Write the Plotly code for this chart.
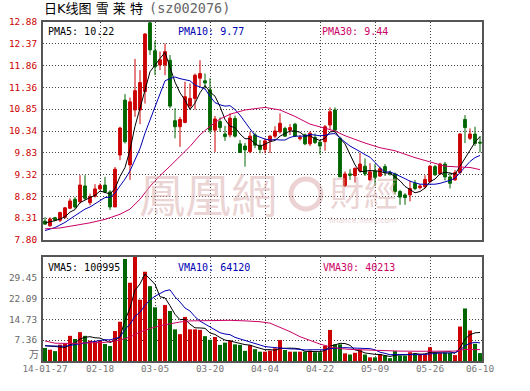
import plotly.graph_objects as go

# ---------------- data ----------------
dates = (
    ["2014-01-27", "2014-01-28", "2014-01-29", "2014-01-30"]
    + ["2014-02-%02d" % d for d in [7, 10, 11, 12, 13, 14, 17, 18, 19, 20, 21, 24, 25, 26, 27, 28]]
    + ["2014-03-%02d" % d for d in [3, 4, 5, 6, 7, 10, 11, 12, 13, 14, 17, 18, 19, 20, 21, 24, 25, 26, 27, 28, 31]]
    + ["2014-04-%02d" % d for d in [1, 2, 3, 4, 8, 9, 10, 11, 14, 15, 16, 17, 18, 21, 22, 23, 24, 25, 28, 29, 30]]
    + ["2014-05-%02d" % d for d in [5, 6, 7, 8, 9, 12, 13, 14, 15, 16, 19, 20, 21, 22, 23, 26, 27, 28, 29, 30]]
    + ["2014-06-%02d" % d for d in [3, 4, 5, 6, 9, 10]]
)

opens = [8.24, 8.13, 8.32, 8.26, 8.33, 8.54, 8.75, 8.69, 9.06, 8.67,
         8.82, 8.99, 9.08, 8.92, 8.57, 9.78, 11.06, 9.55, 10.83, 10.83,
         11.26, 12.86, 12.21, 11.88, 11.88, 11.99, 10.58, 10.44, 10.54, 10.92,
         11.10, 11.57, 11.51, 11.30, 10.36, 10.56, 10.27, 10.25, 10.63, 10.04,
         9.99, 9.86, 10.25, 10.01, 9.91, 10.11, 10.22, 10.32, 10.40, 10.36,
         10.50, 10.16, 10.25, 10.04, 10.19, 10.08, 10.09, 10.48, 10.83, 10.17,
         9.06, 9.34, 9.30, 9.41, 9.52, 9.20, 9.41, 9.29, 9.51, 9.37,
         9.34, 8.93, 8.85, 8.85, 9.12, 9.02, 9.04, 9.16, 9.51, 9.34,
         9.57, 9.27, 9.20, 9.37, 10.61, 10.17, 10.27, 10.08]
highs = [8.33, 8.33, 8.34, 8.46, 8.57, 8.77, 8.80, 9.31, 9.31, 8.88,
         9.10, 9.12, 9.27, 8.96, 9.50, 10.44, 11.20, 11.12, 12.02, 11.76,
         12.62, 12.88, 12.44, 12.19, 12.38, 12.11, 10.87, 10.67, 11.49, 11.45,
         11.68, 11.99, 11.68, 11.57, 10.69, 10.66, 10.46, 10.75, 10.70, 10.13,
         10.06, 10.32, 10.30, 10.13, 10.17, 10.24, 10.45, 10.75, 10.44, 10.50,
         10.53, 10.25, 10.28, 10.33, 10.28, 10.13, 10.48, 10.89, 10.89, 10.21,
         9.40, 9.45, 9.49, 9.83, 9.70, 9.59, 9.57, 9.51, 9.57, 9.42,
         9.37, 8.97, 8.89, 9.18, 9.20, 9.10, 9.31, 9.55, 9.55, 9.60,
         9.62, 9.37, 9.43, 10.29, 10.71, 10.40, 10.44, 10.22]
lows = [8.15, 8.11, 8.24, 8.22, 8.30, 8.52, 8.53, 8.65, 8.73, 8.61,
        8.79, 8.96, 8.89, 8.50, 8.57, 9.66, 10.05, 9.20, 10.67, 10.50,
        10.98, 12.11, 11.64, 11.76, 11.64, 10.87, 10.17, 9.97, 10.52, 10.85,
        10.84, 11.37, 11.33, 10.29, 9.85, 10.32, 10.11, 10.19, 10.19, 9.83,
        9.51, 9.82, 9.94, 9.82, 9.82, 9.83, 10.17, 10.28, 10.21, 10.25,
        10.20, 10.12, 10.01, 9.99, 10.04, 9.80, 9.88, 10.36, 10.30, 9.27,
        9.04, 9.20, 9.14, 9.37, 9.29, 9.18, 9.06, 9.27, 9.29, 9.30,
        8.87, 8.62, 8.62, 8.70, 8.96, 8.98, 9.00, 9.12, 9.29, 9.32,
        9.19, 9.00, 9.18, 9.35, 10.06, 10.13, 9.99, 9.84]
closes = [8.17, 8.29, 8.26, 8.44, 8.55, 8.71, 8.57, 9.08, 8.77, 8.81,
          8.99, 9.07, 8.92, 8.57, 9.45, 10.41, 10.09, 11.02, 11.28, 11.47,
          12.60, 12.23, 11.84, 12.00, 12.19, 10.92, 10.44, 10.61, 11.14, 11.10,
          11.64, 11.68, 11.46, 10.36, 10.62, 10.42, 10.21, 10.64, 10.22, 9.84,
          9.90, 10.22, 10.01, 9.91, 10.11, 10.22, 10.34, 10.52, 10.22, 10.42,
          10.22, 10.19, 10.04, 10.29, 10.07, 9.99, 10.44, 10.79, 10.36, 9.27,
          9.34, 9.31, 9.47, 9.57, 9.34, 9.39, 9.26, 9.46, 9.37, 9.34,
          8.93, 8.80, 8.79, 9.00, 9.00, 9.06, 9.21, 9.52, 9.32, 9.57,
          9.27, 9.12, 9.37, 10.27, 10.42, 10.27, 10.05, 10.06]

# volume in units of 10,000 (万)
volumes = [4.6, 4.0, 3.5, 5.8, 6.2, 8.9, 7.8, 10.2, 8.9, 7.2,
           7.0, 7.3, 6.0, 5.3, 10.6, 13.9, 36.1, 27.7, 37.0, 21.7,
           31.6, 26.5, 19.0, 14.9, 19.8, 17.7, 11.2, 9.5, 15.6, 11.2,
           11.2, 11.0, 8.8, 7.5, 8.5, 5.7, 6.5, 7.3, 5.9, 5.7,
           3.6, 5.6, 4.2, 3.3, 3.3, 3.7, 4.5, 7.4, 3.9, 3.3,
           3.3, 3.3, 3.3, 3.7, 3.1, 3.1, 5.4, 11.0, 5.9, 5.9,
           2.7, 2.3, 2.9, 4.0, 2.3, 1.3, 1.3, 2.5, 1.9, 1.0,
           3.5, 1.9, 1.9, 3.1, 2.7, 2.5, 2.3, 4.9, 2.8, 2.8,
           3.0, 2.9, 2.1, 12.2, 18.6, 10.8, 6.1, 2.8]

pma5 = [8.20, 8.22, 8.25, 8.29, 8.34, 8.45, 8.51, 8.67, 8.74, 8.79,
        8.84, 8.94, 8.91, 8.87, 9.00, 9.28, 9.49, 9.90, 10.45, 10.85,
        11.29, 11.72, 11.88, 12.03, 12.17, 11.84, 11.48, 11.23, 11.06, 10.84,
        10.99, 11.23, 11.40, 11.25, 11.15, 10.91, 10.61, 10.45, 10.42, 10.27,
        10.16, 10.16, 10.04, 9.98, 10.03, 10.09, 10.12, 10.22, 10.28, 10.34,
        10.34, 10.31, 10.22, 10.23, 10.16, 10.12, 10.17, 10.32, 10.33, 10.17,
        10.04, 9.81, 9.55, 9.39, 9.41, 9.42, 9.41, 9.40, 9.36, 9.36,
        9.27, 9.18, 9.05, 8.97, 8.90, 8.93, 9.01, 9.16, 9.22, 9.34,
        9.38, 9.36, 9.33, 9.52, 9.69, 9.89, 10.08, 10.21]
pma10 = [8.02, 8.05, 8.09, 8.15, 8.21, 8.29, 8.37, 8.45, 8.52, 8.57,
         8.65, 8.73, 8.79, 8.80, 8.89, 9.06, 9.22, 9.41, 9.66, 9.93,
         10.29, 10.60, 10.89, 11.24, 11.51, 11.56, 11.60, 11.56, 11.54, 11.51,
         11.41, 11.36, 11.32, 11.15, 11.00, 10.95, 10.92, 10.93, 10.84, 10.71,
         10.54, 10.39, 10.24, 10.20, 10.15, 10.13, 10.14, 10.13, 10.13, 10.19,
         10.22, 10.22, 10.22, 10.26, 10.25, 10.23, 10.24, 10.27, 10.28, 10.17,
         10.08, 9.99, 9.93, 9.86, 9.79, 9.73, 9.61, 9.48, 9.38, 9.39,
         9.34, 9.29, 9.23, 9.17, 9.13, 9.10, 9.10, 9.10, 9.10, 9.12,
         9.15, 9.19, 9.24, 9.37, 9.51, 9.63, 9.72, 9.77]
# 30-day MA read at sampled bars
pma30_at = [0, 3, 6, 9, 12, 15, 17, 19, 21, 23, 25, 27, 29, 31, 33, 35, 37, 40, 44,
            47, 50, 53, 56, 58, 60, 62, 64, 67, 70, 74, 77, 80, 83, 85, 87]
pma30 = [8.06, 8.08, 8.14, 8.20, 8.28, 8.40, 8.52, 8.75, 9.05, 9.30, 9.52, 9.76, 9.98,
         10.25, 10.45, 10.62, 10.73, 10.83, 10.89, 10.83, 10.68, 10.50, 10.41, 10.34,
         10.23, 10.14, 10.06, 9.95, 9.88, 9.72, 9.62, 9.52, 9.50, 9.49, 9.44]

vma5 = [5.4, 5.2, 5.0, 4.9, 4.82, 5.68, 6.44, 7.78, 8.40, 8.60,
        8.22, 8.12, 7.28, 6.56, 7.24, 8.62, 14.38, 18.72, 25.06, 27.28,
        30.82, 28.90, 27.16, 22.74, 22.36, 19.58, 16.52, 14.62, 14.76, 13.04,
        11.74, 11.70, 11.56, 9.94, 9.40, 8.30, 7.40, 7.10, 6.78, 6.22,
        5.80, 5.62, 5.00, 4.48, 4.00, 4.02, 3.80, 4.44, 4.56, 4.56,
        4.48, 4.24, 3.42, 3.38, 3.34, 3.30, 3.72, 5.26, 5.70, 6.26,
        6.18, 5.56, 3.94, 3.56, 2.84, 2.56, 2.36, 2.28, 1.86, 1.60,
        2.04, 2.16, 2.04, 2.28, 2.62, 2.42, 2.50, 3.10, 3.04, 3.06,
        3.16, 3.28, 2.72, 4.60, 7.76, 9.32, 9.96, 10.10]
vma10 = [5.4, 5.3, 5.2, 5.1, 5.2, 5.5, 5.8, 6.1, 6.4, 6.71,
         6.95, 7.28, 7.53, 7.48, 7.92, 8.42, 11.25, 13.00, 15.81, 17.26,
         19.72, 21.64, 22.94, 23.90, 24.82, 25.20, 22.71, 20.89, 18.75, 17.70,
         15.66, 14.11, 13.09, 12.35, 11.22, 10.02, 9.55, 9.33, 8.36, 7.81,
         7.05, 6.51, 6.05, 5.63, 5.11, 4.91, 4.71, 4.72, 4.52, 4.28,
         4.25, 4.02, 3.93, 3.97, 3.95, 3.89, 3.98, 4.34, 4.54, 4.80,
         4.74, 4.64, 4.60, 4.63, 4.55, 4.37, 3.96, 3.11, 2.71, 2.22,
         2.30, 2.26, 2.16, 2.07, 2.11, 2.23, 2.33, 2.57, 2.66, 2.84,
         2.79, 2.89, 2.91, 3.82, 5.41, 6.24, 6.62, 6.41]
vma30_at = [0, 2, 5, 9, 12, 15, 17, 19, 21, 23, 25, 27, 29, 33, 37, 40, 43, 45, 47,
            49, 51, 53, 55, 57, 59, 61, 64, 67, 71, 75, 79, 82, 84, 86, 87]
vma30 = [7.1, 6.3, 6.2, 6.3, 6.6, 7.4, 8.5, 10.2, 11.5, 12.5, 13.2, 13.8, 14.2, 14.4,
         14.4, 14.2, 13.9, 13.4, 11.9, 10.4, 8.6, 7.2, 6.0, 5.0, 4.4, 4.1, 3.9, 3.6,
         3.5, 3.45, 3.45, 3.5, 4.1, 4.1, 4.02]

price_ticks = [7.80, 8.308, 8.816, 9.324, 9.832, 10.34, 10.848, 11.356, 11.864, 12.372, 12.88]
price_labels = ["7.80", "8.31", "8.82", "9.32", "9.83", "10.34", "10.85", "11.36", "11.86", "12.37", "12.88"]
vol_ticks = [7.362, 14.724, 22.086, 29.448]
vol_labels = ["7.36", "14.73", "22.09", "29.45"]
date_ticks = ["2014-01-27", "2014-02-18", "2014-03-05", "2014-03-20", "2014-04-04",
              "2014-04-22", "2014-05-09", "2014-05-26", "2014-06-10"]
date_labels = ["14-01-27", "02-18", "03-05", "03-20", "04-04", "04-22", "05-09", "05-26", "06-10"]

legend_price = ["PMA5: 10.22", "PMA10: 9.77", "PMA30: 9.44"]
legend_vol = ["VMA5: 100995", "VMA10: 64120", "VMA30: 40213"]

# ---------------- style ----------------
W, H = 530, 391
RED = "#cc0000"
GREEN = "#006600"
BLUE = "#0000b4"
MAG = "#cc0066"
GRID = "#444444"
FRAME = "#555555"
MONO = "DejaVu Sans Mono"


def px_x(p):
    return p / W


def px_y(p):
    return 1 - p / H


x_dom = [px_x(43), px_x(482)]
price_dom = [px_y(240), px_y(22)]
vol_dom = [px_y(361), px_y(257)]

vol_colors = [RED if c >= o else GREEN for o, c in zip(opens, closes)]

fig = go.Figure()
fig.add_trace(go.Candlestick(
    x=dates, open=opens, high=highs, low=lows, close=closes,
    increasing=dict(line=dict(color=RED, width=1), fillcolor=RED),
    decreasing=dict(line=dict(color=GREEN, width=1), fillcolor=GREEN),
    whiskerwidth=0, xaxis="x", yaxis="y", hoverinfo="skip", showlegend=False))
fig.add_trace(go.Scatter(x=dates, y=pma5, mode="lines", line=dict(color="#000000", width=1),
                         xaxis="x", yaxis="y", showlegend=False))
fig.add_trace(go.Scatter(x=dates, y=pma10, mode="lines", line=dict(color=BLUE, width=1),
                         xaxis="x", yaxis="y", showlegend=False))
fig.add_trace(go.Scatter(x=[dates[i] for i in pma30_at], y=pma30, mode="lines",
                         line=dict(color=MAG, width=1), xaxis="x", yaxis="y", showlegend=False))

fig.add_trace(go.Bar(x=dates, y=volumes, marker=dict(color=vol_colors, line=dict(width=0)),
                     width=0.8, xaxis="x2", yaxis="y2", showlegend=False))
fig.add_trace(go.Scatter(x=dates, y=vma5, mode="lines", line=dict(color="#000000", width=1),
                         xaxis="x2", yaxis="y2", showlegend=False))
fig.add_trace(go.Scatter(x=dates, y=vma10, mode="lines", line=dict(color=BLUE, width=1),
                         xaxis="x2", yaxis="y2", showlegend=False))
fig.add_trace(go.Scatter(x=[dates[i] for i in vma30_at], y=vma30, mode="lines",
                         line=dict(color=MAG, width=1), xaxis="x2", yaxis="y2", showlegend=False))

inner_ticks = date_ticks[1:-1]
common_x = dict(
    domain=x_dom, type="category", categoryorder="array", categoryarray=dates,
    range=[-0.4, 87.4], showgrid=False, zeroline=False, automargin=False,
    showline=True, mirror=True, linecolor=FRAME, linewidth=2,
    ticks="", tickvals=date_ticks, ticktext=date_labels,
    minor=dict(tickvals=inner_ticks, showgrid=True, gridcolor=GRID, gridwidth=1,
               griddash="1px,2px", ticks=""),
    fixedrange=True,
)
common_y = dict(
    showgrid=True, gridcolor=GRID, gridwidth=1, griddash="1px,2px", automargin=False,
    zeroline=False, showline=True, mirror=True, linecolor=FRAME, linewidth=2,
    ticks="", ticklabelstandoff=2, fixedrange=True,
)

fig.update_layout(
    template="none",
    width=W, height=H, autosize=False,
    margin=dict(l=0, r=0, t=0, b=0, pad=0),
    paper_bgcolor="white", plot_bgcolor="white",
    showlegend=False, hovermode=False,
    boxgap=0.2, bargap=0.2,
    xaxis=dict(**common_x, anchor="y", showticklabels=False, rangeslider=dict(visible=False)),
    yaxis=dict(**common_y, domain=price_dom, anchor="x", range=[7.80, 12.88],
               tickvals=price_ticks, ticktext=price_labels,
               tickfont=dict(family=MONO, size=9.4, color=RED)),
    xaxis2=dict(**common_x, anchor="y2", showticklabels=True, ticklabelstandoff=-2,
                tickfont=dict(family=MONO, size=9.4, color="#777777")),
    yaxis2=dict(**common_y, domain=vol_dom, anchor="x2", range=[0, 36.81],
                tickvals=vol_ticks, ticktext=vol_labels,
                tickfont=dict(family=MONO, size=9.4, color="#666666")),
)

ann = []
# title
ann.append(dict(x=px_x(42), y=px_y(8), xref="paper", yref="paper", xanchor="left", yanchor="middle",
                align="left", showarrow=False, text="日K线图 雪 莱 特",
                font=dict(family="DejaVu Sans, Noto Sans CJK SC", size=13, color="#000000")))
ann.append(dict(x=px_x(147), y=px_y(8), xref="paper", yref="paper", xanchor="left", yanchor="middle",
                align="left", showarrow=False, text="(sz002076)",
                font=dict(family=MONO, size=13.5, color="#666666")))
# legends
for txt, xp, col in zip(legend_price, [46, 176, 320], ["#000000", BLUE, MAG]):
    ann.append(dict(x=px_x(xp), y=px_y(32), xref="paper", yref="paper", xanchor="left",
                    yanchor="middle", align="left", showarrow=False, text=txt,
                    font=dict(family=MONO, size=10, color=col)))
for txt, xp, col in zip(legend_vol, [46, 176, 321], ["#000000", BLUE, MAG]):
    ann.append(dict(x=px_x(xp), y=px_y(267), xref="paper", yref="paper", xanchor="left",
                    yanchor="middle", align="left", showarrow=False, text=txt,
                    font=dict(family=MONO, size=10, color=col)))
# volume unit
ann.append(dict(x=px_x(41), y=px_y(353), xref="paper", yref="paper", xanchor="right",
                yanchor="middle", showarrow=False, text="万",
                font=dict(family="Noto Sans CJK SC", size=10, color="#666666")))
# watermark
ann.append(dict(x=px_x(208), y=px_y(192), xref="paper", yref="paper", xanchor="center",
                yanchor="middle", showarrow=False, text="鳳凰網", opacity=0.5,
                font=dict(family="Noto Sans CJK TC", size=46, color="#d9aaaa")))
ann.append(dict(x=px_x(364), y=px_y(191), xref="paper", yref="paper", xanchor="center",
                yanchor="middle", showarrow=False, text="財經", opacity=0.5,
                font=dict(family="Noto Sans CJK TC", size=34, color="#d9aaaa")))
ann.append(dict(x=px_x(362), y=px_y(221), xref="paper", yref="paper", xanchor="center",
                yanchor="middle", showarrow=False, text="finance.ifeng.com", opacity=0.5,
                font=dict(family="DejaVu Sans", size=7.5, color="#d9aaaa")))
fig.update_layout(annotations=ann)

fig.add_shape(type="circle", xref="paper", yref="paper", layer="below",
              x0=px_x(291), x1=px_x(321), y0=px_y(209), y1=px_y(179),
              line=dict(color="#ecd2d2", width=5), fillcolor="rgba(0,0,0,0)")

fig.write_html("out.html", config={"displayModeBar": False, "staticPlot": True},
               post_script="document.body.style.margin='0';")
